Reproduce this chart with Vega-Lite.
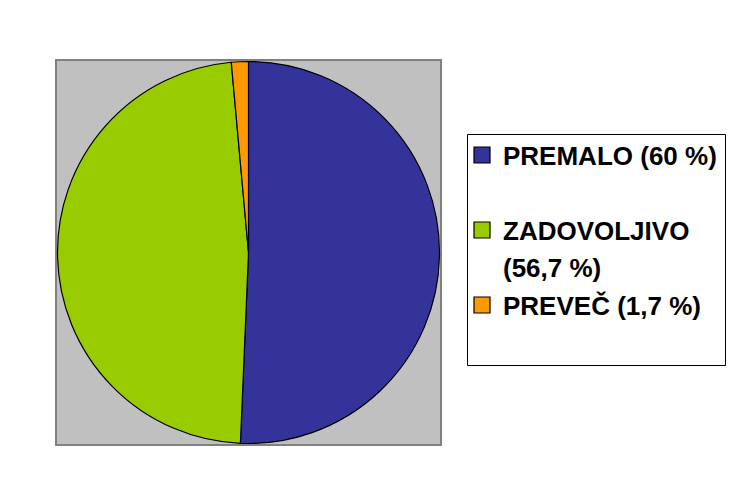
{
  "$schema": "https://vega.github.io/schema/vega-lite/v6.json",
  "width": 385,
  "height": 385,
  "autosize": {"type": "none"},
  "padding": {"left": 56, "top": 60, "right": 297, "bottom": 47},
  "background": "white",
  "view": {"fill": "#C0C0C0", "stroke": "#808080", "strokeWidth": 2},
  "data": {
    "values": [
      {"kategorija": "PREMALO (60 %)", "odstotek": 60, "red": 1},
      {"kategorija": "ZADOVOLJIVO (56,7 %)", "odstotek": 56.7, "red": 2},
      {"kategorija": "PREVEČ (1,7 %)", "odstotek": 1.7, "red": 3}
    ]
  },
  "mark": {"type": "arc", "outerRadius": 191, "stroke": "black", "strokeWidth": 1.2},
  "encoding": {
    "theta": {"field": "odstotek", "type": "quantitative", "stack": true},
    "order": {"field": "red", "type": "quantitative"},
    "color": {
      "field": "kategorija",
      "type": "nominal",
      "scale": {
        "domain": ["PREMALO (60 %)", "ZADOVOLJIVO (56,7 %)", "PREVEČ (1,7 %)"],
        "range": ["#333399", "#99CC00", "#FF9900"]
      },
      "legend": {
        "title": null,
        "orient": "none",
        "legendX": 411,
        "legendY": 74,
        "symbolType": "square",
        "symbolSize": 256,
        "symbolStrokeColor": "black",
        "symbolStrokeWidth": 1.2,
        "symbolOpacity": 1,
        "symbolOffset": -6,
        "labelFont": "Liberation Sans",
        "labelFontWeight": "bold",
        "labelFontSize": 26,
        "labelColor": "black",
        "labelLimit": 400,
        "labelOffset": 8,
        "labelBaseline": "top",
        "labelExpr": "datum.label == 'ZADOVOLJIVO (56,7 %)' ? ['ZADOVOLJIVO', '(56,7 %)'] : [datum.label, '']",
        "rowPadding": 10,
        "padding": 8,
        "strokeColor": "black",
        "fillColor": "white",
        "encode": {
          "labels": {"update": {"dy": {"value": -11}, "lineHeight": {"value": 37}}}
        }
      }
    }
  },
  "config": {
    "style": {"view": {"fill": "#C0C0C0", "stroke": "#808080", "strokeWidth": 2}}
  }
}
